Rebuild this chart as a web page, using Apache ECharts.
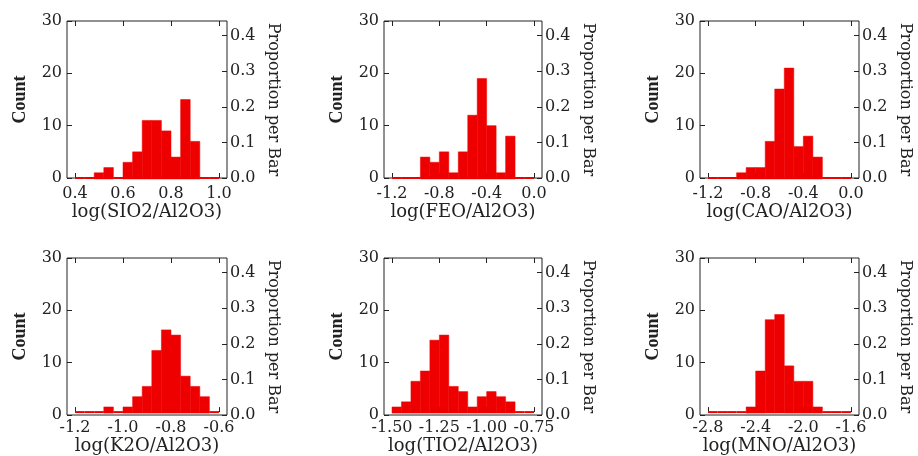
<!DOCTYPE html>
<html>
<head>
<meta charset="utf-8">
<script src="https://cdn.jsdelivr.net/npm/echarts@6/dist/echarts.min.js"></script>
<style>
  html, body { margin: 0; padding: 0; background: #fff; }
  #chart { width: 918px; height: 456px; }
</style>
</head>
<body>
<div id="chart"></div>
<script>
// Histogram counts per bin for each oxide ratio (log scale)
const sio2Counts = [0, 0, 1, 2, 0, 3, 5, 11, 11, 9, 4, 15, 7, 0, 0];
const feoCounts  = [0, 0, 0, 4, 3, 5, 1, 5, 12, 19, 10, 1, 8, 0, 0];
const caoCounts  = [0, 0, 0, 1, 2, 2, 7, 17, 21, 6, 8, 4, 0, 0, 0];
const k2oCounts  = [0, 0, 0, 1, 0, 1, 3, 5, 12, 16, 15, 7, 5, 3, 0];
const tio2Counts = [1, 2, 6, 8, 14, 15, 5, 4, 1, 3, 4, 3, 2, 0, 0];
const mnoCounts  = [0, 0, 0, 0, 1, 8, 18, 19, 9, 6, 6, 1, 0, 0, 0];

// Bin start and width for each histogram
const binStarts = [0.4, -1.2, -1.2, -1.2, -1.5, -2.8];
const binWidths = [0.04, 0.08, 0.08, 0.04, 0.05, 0.08];

// Axis tick settings: min, max, interval, decimals
const axisMins = [0.4, -1.2, -1.2, -1.2, -1.5, -2.8];
const axisMaxs = [1.0, 0.0, 0.0, -0.6, -0.75, -1.6];
const axisSteps = [0.2, 0.4, 0.4, 0.2, 0.25, 0.4];
const axisDecimals = [1, 1, 1, 1, 2, 1];

const axisTitles = [
  'log(SIO2/Al2O3)', 'log(FEO/Al2O3)', 'log(CAO/Al2O3)',
  'log(K2O/Al2O3)', 'log(TIO2/Al2O3)', 'log(MNO/Al2O3)'
];
const countTicks = { min: 0, max: 30, step: 10 };
const propStep = 0.1;

const allCounts = [sio2Counts, feoCounts, caoCounts, k2oCounts, tio2Counts, mnoCounts];
const total = sio2Counts.reduce((a, b) => a + b, 0);

const RED = '#ee0000';
const INK = '#222';
const FONT = 'DejaVu Serif';

const frames = [
  { left: 67,  top: 21,  width: 160 },
  { left: 384, top: 21,  width: 158 },
  { left: 700, top: 21,  width: 159 },
  { left: 67,  top: 258, width: 160 },
  { left: 384, top: 258, width: 158 },
  { left: 700, top: 258, width: 159 }
];
const H = 157;
const PAD = 8;

const fmt = (d) => (v) => (Math.abs(v) < 1e-9 ? 0 : v).toFixed(d);
const tickStyle = { show: true, inside: true, length: 5, lineStyle: { color: INK, width: 1 } };

const grid = [], xAxis = [], yAxis = [], series = [];

frames.forEach((f, i) => {
  // outer frame box
  const outer = grid.length;
  grid.push({
    left: f.left, top: f.top, width: f.width, height: H,
    show: true, borderColor: INK, borderWidth: 1, backgroundColor: 'transparent'
  });
  // plotting area, inset horizontally inside the frame
  const inner = grid.length;
  grid.push({ left: f.left + PAD, top: f.top, width: f.width - 2 * PAD, height: H });

  xAxis.push({ type: 'value', gridIndex: outer, min: 0, max: 1, show: false });

  // count axis (left)
  yAxis.push({
    type: 'value', gridIndex: outer, position: 'left',
    min: countTicks.min, max: countTicks.max, interval: countTicks.step,
    axisLine: { show: false },
    axisTick: tickStyle,
    axisLabel: { color: INK, fontFamily: FONT, fontSize: 16, margin: 5 },
    splitLine: { show: false },
    name: 'Count', nameLocation: 'middle', nameRotate: 90, nameGap: 38,
    nameTextStyle: { color: INK, fontFamily: 'Liberation Serif', fontWeight: 'bold', fontSize: 18 }
  });
  // proportion axis (right)
  yAxis.push({
    type: 'value', gridIndex: outer, position: 'right',
    min: 0, max: countTicks.max / total, interval: propStep,
    axisLine: { show: false },
    axisTick: tickStyle,
    axisLabel: { color: INK, fontFamily: FONT, fontSize: 16, margin: 3, formatter: fmt(1) },
    splitLine: { show: false },
    name: 'Proportion per Bar', nameLocation: 'middle', nameRotate: -90, nameGap: 38,
    nameTextStyle: { color: INK, fontFamily: FONT, fontSize: 16 }
  });

  // value axis with ticks and labels (bottom) and ticks only (top)
  const xBottom = xAxis.length;
  xAxis.push({
    type: 'value', gridIndex: inner, position: 'bottom',
    min: axisMins[i], max: axisMaxs[i], interval: axisSteps[i],
    axisLine: { show: false, onZero: false },
    axisTick: tickStyle,
    axisLabel: { color: INK, fontFamily: FONT, fontSize: 16, margin: 8, formatter: fmt(axisDecimals[i]) },
    splitLine: { show: false },
    name: axisTitles[i], nameLocation: 'middle', nameGap: 22,
    nameTextStyle: { color: INK, fontFamily: FONT, fontSize: 18 }
  });
  xAxis.push({
    type: 'value', gridIndex: inner, position: 'top',
    min: axisMins[i], max: axisMaxs[i], interval: axisSteps[i],
    axisLine: { show: false, onZero: false },
    axisTick: tickStyle,
    axisLabel: { show: false }, splitLine: { show: false }
  });
  const yInner = yAxis.length;
  yAxis.push({
    type: 'value', gridIndex: inner, min: countTicks.min, max: countTicks.max,
    show: false
  });

  const data = allCounts[i].map((c, k) => {
    const s = binStarts[i] + k * binWidths[i];
    return [s, s + binWidths[i], c];
  });

  series.push({
    type: 'custom',
    xAxisIndex: xBottom,
    yAxisIndex: yInner,
    encode: { x: [0, 1], y: 2 },
    data: data,
    z: 5,
    silent: true,
    renderItem: function (params, api) {
      const x0 = api.value(0), x1 = api.value(1), c = api.value(2);
      const p0 = api.coord([x0, 0]);
      const p1 = api.coord([x1, c]);
      if (c === 0) {
        return {
          type: 'rect',
          shape: { x: p0[0], y: p0[1] - 1, width: p1[0] - p0[0], height: 2 },
          style: { fill: RED }
        };
      }
      return {
        type: 'rect',
        shape: { x: p0[0], y: p1[1], width: p1[0] - p0[0], height: p0[1] - p1[1] + 1 },
        style: { fill: RED, stroke: RED, lineWidth: 0.5 }
      };
    }
  });
});

const chart = echarts.init(document.getElementById('chart'), null, { renderer: 'canvas' });
chart.setOption({
  animation: false,
  backgroundColor: '#fff',
  grid: grid,
  xAxis: xAxis,
  yAxis: yAxis,
  series: series
});
</script>
</body>
</html>
